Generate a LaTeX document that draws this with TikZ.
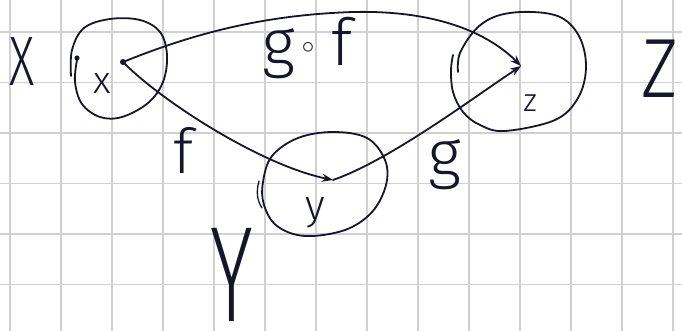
\documentclass[tikz,border=0pt]{standalone}
\usepackage{graphicx}
\usepackage{fontspec}
\usetikzlibrary{arrows.meta}
\newcommand\trythin[2]{\IfFontExistsTF{#1}{\newfontfamily\hand{#1}}{#2}}
\trythin{FiraSans-Thin.otf}{%
\trythin{FiraSans-ExtraLight.otf}{%
\trythin{FiraSans-Light.otf}{%
\trythin{Fira Sans Light}{%
\trythin{DejaVuSans-ExtraLight.ttf}{%
\trythin{DejaVu Sans ExtraLight}{%
\trythin{Lato-Hairline.ttf}{%
\trythin{Lato-Light.ttf}{%
\trythin{Lato Light}{%
\trythin{Open Sans Light}{%
\newfontfamily\hand{Latin Modern Sans}}}}}}}}}}}
\definecolor{ink}{RGB}{22,22,42}
\definecolor{gridc}{RGB}{208,208,208}
\tikzset{
  inkline/.style={draw=ink, line width=1.8pt, line cap=round, line join=round},
  arr/.style={inkline, -{Stealth[length=11pt,width=8pt]}},
  lbl/.style={text=ink, inner sep=0pt, font=\hand},
  gridline/.style={draw=gridc, line width=1.4pt},
  handdot/.style={fill=ink},
}
\newcommand{\fsz}[1]{\fontsize{#1}{#1}\selectfont}
\begin{document}
\begin{tikzpicture}[x=1pt,y=-1pt]
\useasboundingbox (0,0) rectangle (682,331);
\clip (0,0) rectangle (682,331);
\fill[white] (0,0) rectangle (682,331);
% grid paper
\foreach \i in {0,...,13} \draw[gridline] ({10+51*\i},0) -- ({10+51*\i},331);
\foreach \j in {0,...,5} \draw[gridline] (0,{32+50.5*\j}) -- (682,{32+50.5*\j});

% element points
\coordinate (px) at (123,62);
\coordinate (py) at (333,180);
\coordinate (pz) at (521,66);
\coordinate (peak) at (353,12);

% set X
\draw[inkline] plot[smooth, tension=0.6] coordinates {(71,76) (72,50) (84,28) (110,19) (140,20) (160,32) (167,55) (163,82) (148,103) (122,117) (100,117) (82,104) (75,82) (77,60)};
\fill[handdot] (77,58) circle (2.6);
% set Y
\draw[inkline] plot[smooth cycle, tension=0.6] coordinates {(333,132) (367,138) (385,160) (386,185) (372,212) (345,230) (305,236) (277,226) (264,205) (263,182) (272,156) (298,138)};
\draw[inkline, line width=1.3pt] (259,181) .. controls (256,192) and (257,200) .. (262,208);
% set Z
\draw[inkline] plot[smooth, tension=0.6] coordinates {(458,72) (460,53) (477,28) (500,15) (533,12) (562,18) (580,38) (586,68) (578,98) (555,120) (505,131) (480,125) (463,112) (453,92) (451,70) (453,55)};

% element dot
\fill[handdot] (px) circle (3);

% maps
\draw[arr] (px) .. controls (160,100) and (260,165) .. (py);
\draw[arr] (py) .. controls (390,160) and (470,100) .. (pz);
\draw[arr] (px) .. controls (190,35) and (260,15) .. (peak) .. controls (440,10) and (490,35) .. (pz);

% labels
\node[lbl] (lX) at (22,62) {\scalebox{0.7}[1]{\fsz{70}X}};
\node[lbl] (lZ) at (660,69) {\scalebox{0.85}[1]{\fsz{84}Z}};
\node[lbl, anchor=base] (lY) at (232,321) {\scalebox{0.6}[1]{\fsz{136}Y}};
\node[lbl] (lx) at (102,84) {\fsz{38}x};
\node[lbl] (ly) at (315,213) {\fsz{42}y};
\node[lbl] (lz) at (530,103) {\fsz{32}z};
\node[lbl] (lf) at (183,150) {\fsz{62}f};
\node[lbl] (lg) at (445,165) {\fsz{65}g};
\node[lbl, anchor=base west] (lgf) at (262,66) {\fsz{65}g\hspace{7pt}\raisebox{12pt}{\fsz{28}$\circ$}\hspace{17pt}f};
\end{tikzpicture}
\end{document}
